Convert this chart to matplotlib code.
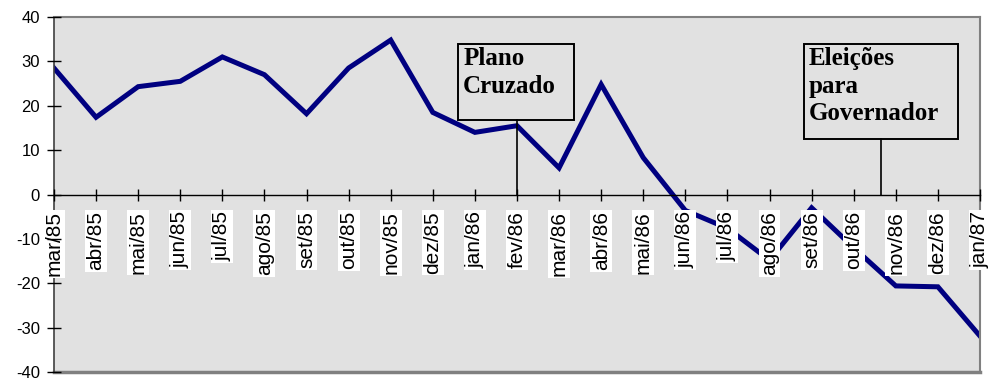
import matplotlib.pyplot as plt
from matplotlib.patches import Rectangle

plt.rcParams['axes.unicode_minus'] = False
plt.rcParams['font.family'] = 'Liberation Sans'

months = ['mar/85', 'abr/85', 'mai/85', 'jun/85', 'jul/85', 'ago/85', 'set/85',
          'out/85', 'nov/85', 'dez/85', 'jan/86', 'fev/86', 'mar/86', 'abr/86',
          'mai/86', 'jun/86', 'jul/86', 'ago/86', 'set/86', 'out/86', 'nov/86',
          'dez/86', 'jan/87']
values = [28.5, 17.4, 24.3, 25.5, 31.0, 27.0, 18.2, 28.5, 34.8, 18.5, 14.0,
          15.5, 6.0, 24.8, 8.3, -3.6, -7.6, -14.8, -3.0, -12.0, -20.6, -20.8,
          -31.9]
y_ticks = [40, 30, 20, 10, 0, -10, -20, -30, -40]

fig = plt.figure(figsize=(9.9, 3.81), dpi=100)
ax = fig.add_axes([0.0545, 0.0236, 0.9354, 0.9318])
ax.set_facecolor('#e1e1e1')

# move the x axis to zero first (this resets tick settings)
ax.spines['bottom'].set_position(('data', 0))
ax.spines['bottom'].set_color('black')
ax.spines['bottom'].set_linewidth(1)
ax.spines['left'].set_color('#404040')
ax.spines['left'].set_linewidth(1.2)
for side in ['top', 'right']:
    ax.spines[side].set_color('#808080')
    ax.spines[side].set_linewidth(1.5)
ax.axhline(-40, color='#808080', lw=2.5, clip_on=False, zorder=2.4)
ax.set_axisbelow(False)

x = list(range(len(months)))
ax.plot(x, values, color='#000080', lw=3.6, solid_joinstyle='miter', zorder=2)

ax.set_xlim(0, len(months) - 1)
ax.set_ylim(-40, 40)
ax.set_yticks(y_ticks)
ax.set_xticks(x)
ax.tick_params(axis='x', direction='inout', length=8, width=1, pad=8)
ax.tick_params(axis='y', direction='inout', length=10, width=1, pad=5,
               labelsize=12)
ax.set_xticklabels(months, rotation=90, fontsize=15, va='top', ha='center')
for lab in ax.get_xticklabels():
    lab.set_bbox(dict(facecolor='white', edgecolor='none', pad=1))

# annotation boxes
serif = dict(family='Liberation Serif', weight='bold', fontsize=18,
             linespacing=1.25, va='top', ha='left')
ax.add_patch(Rectangle((9.6, 16.7), 2.75, 17.2, fill=False, ec='black', lw=1.4))
ax.text(9.72, 33.2, 'Plano\nCruzado', **serif)
ax.plot([11, 11], [16.7, 0], color='black', lw=1.2)

ax.add_patch(Rectangle((17.82, 12.4), 3.66, 21.6, fill=False, ec='black', lw=1.4))
ax.text(17.92, 33.2, 'Eleições\npara\nGovernador', **serif)
ax.plot([19.65, 19.65], [12.4, 0], color='black', lw=1.2)

fig.savefig('out.png')
